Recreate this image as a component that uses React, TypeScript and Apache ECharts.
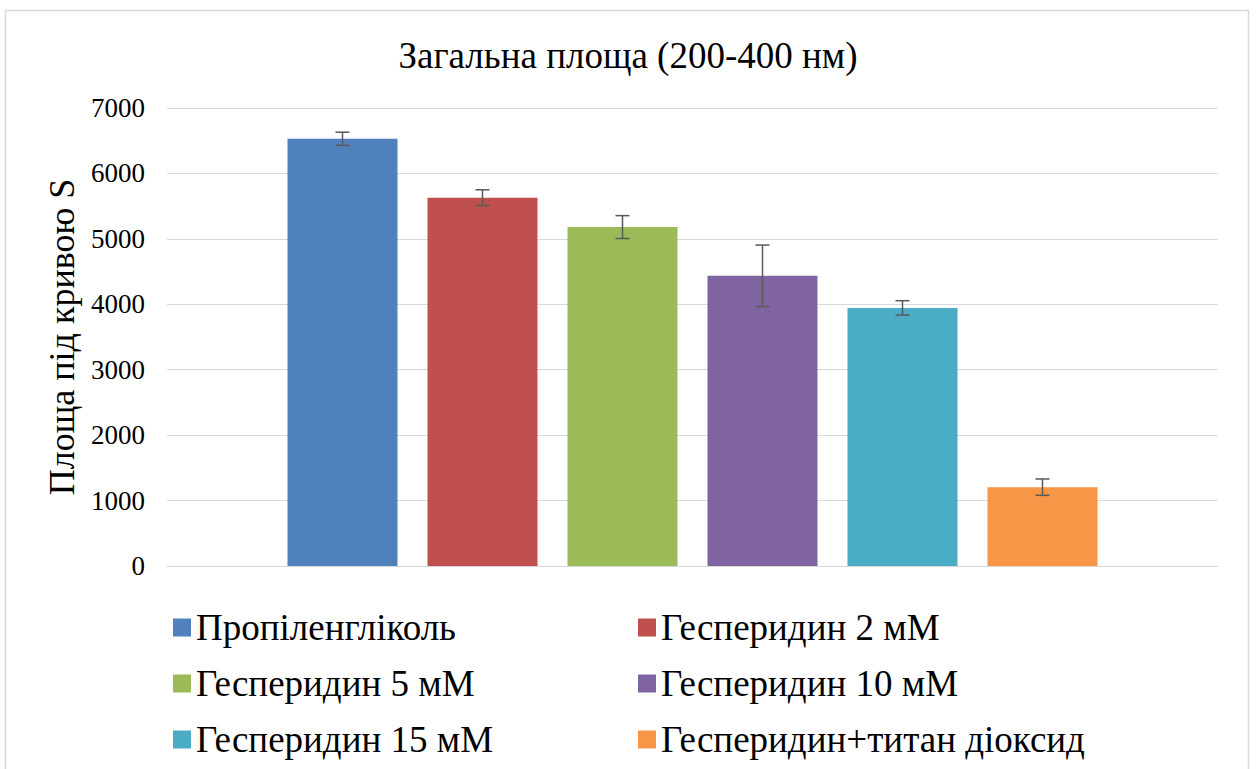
import React, { useEffect, useRef } from "react";
import * as echarts from "echarts";

const titleText = "Загальна площа (200-400 нм)";
const yAxisName = "Площа під кривою S";
const seriesNames = [
  "Пропіленгліколь",
  "Гесперидин 2 мМ",
  "Гесперидин 5 мМ",
  "Гесперидин 10 мМ",
  "Гесперидин 15 мМ",
  "Гесперидин+титан діоксид",
];
const seriesValues = [6530, 5630, 5180, 4435, 3945, 1205];
const seriesErrors = [100, 120, 175, 470, 110, 125];
const colors = ["#4F81BD", "#C0504D", "#9BBB59", "#8064A2", "#4BACC6", "#F79646"];

const FONT = "Liberation Serif";
const BAR_W = 110;
const BAR_STEP = 140;

export default function App() {
  const ref = useRef<HTMLDivElement>(null);
  useEffect(() => {
    document.body.style.margin = "0";
    if (!ref.current) return;
    const chart = echarts.init(ref.current, undefined, { renderer: "svg" });
    const n = seriesNames.length;
    const barSeries = seriesNames.map((name, i) => ({
      name,
      type: "bar",
      data: [seriesValues[i]],
      barWidth: BAR_W,
      barGap: ((BAR_STEP - BAR_W) / BAR_W) * 100 + "%",
      itemStyle: { color: colors[i] },
      z: 2,
    }));
    const errSeries = {
      type: "custom",
      name: "err",
      z: 5,
      data: seriesValues.map((v, i) => [0, v - seriesErrors[i], v + seriesErrors[i], i]),
      renderItem: (params: any, api: any) => {
        const idx = api.value(3);
        const lo = api.coord([0, api.value(1)]);
        const hi = api.coord([0, api.value(2)]);
        const x = lo[0] + (idx - (n - 1) / 2) * BAR_STEP;
        const cap = 7;
        const style = { stroke: "#595959", lineWidth: 1.5 };
        return {
          type: "group",
          children: [
            { type: "line", shape: { x1: x, y1: lo[1], x2: x, y2: hi[1] }, style },
            { type: "line", shape: { x1: x - cap, y1: lo[1], x2: x + cap, y2: lo[1] }, style },
            { type: "line", shape: { x1: x - cap, y1: hi[1], x2: x + cap, y2: hi[1] }, style },
          ],
        };
      },
      silent: true,
    };
    const legendCommon = {
      orient: "vertical",
      itemWidth: 18,
      itemHeight: 18,
      itemGap: 19,
      icon: "rect",
      textStyle: { fontFamily: FONT, fontSize: 37, color: "#000" },
    };
    chart.setOption({
      animation: false,
      backgroundColor: "#fff",
      textStyle: { fontFamily: FONT },
      title: {
        text: titleText,
        left: "center",
        top: 32,
        textStyle: { fontFamily: FONT, fontSize: 37, fontWeight: "normal", color: "#000" },
      },
      legend: [
        { ...legendCommon, left: 168, top: 604, data: [seriesNames[0], seriesNames[2], seriesNames[4]] },
        { ...legendCommon, left: 633, top: 604, data: [seriesNames[1], seriesNames[3], seriesNames[5]] },
      ],
      grid: { left: 167, right: 38, top: 108, bottom: 203 },
      xAxis: {
        type: "category",
        data: [""],
        axisLine: { lineStyle: { color: "#D9D9D9" } },
        axisTick: { show: false },
        axisLabel: { show: false },
      },
      yAxis: {
        type: "value",
        min: 0,
        max: 7000,
        interval: 1000,
        name: yAxisName,
        nameLocation: "middle",
        nameGap: 83,
        nameTextStyle: { fontFamily: FONT, fontSize: 36, color: "#000" },
        axisLine: { show: false },
        axisTick: { show: false },
        axisLabel: {
          fontFamily: FONT,
          fontSize: 27,
          color: "#000",
          margin: 22,
          formatter: (v: number) => String(v),
        },
        splitLine: { lineStyle: { color: "#D9D9D9", width: 1 } },
      },
      graphic: [
        {
          type: "rect",
          shape: { x: 5.5, y: 10.5, width: 1243, height: 770 },
          style: { fill: "none", stroke: "#D9D9D9", lineWidth: 1.5 },
          silent: true,
        },
      ],
      series: [...barSeries, errSeries],
    });
    return () => chart.dispose();
  }, []);
  return <div ref={ref} style={{ width: 1256, height: 769 }} />;
}
